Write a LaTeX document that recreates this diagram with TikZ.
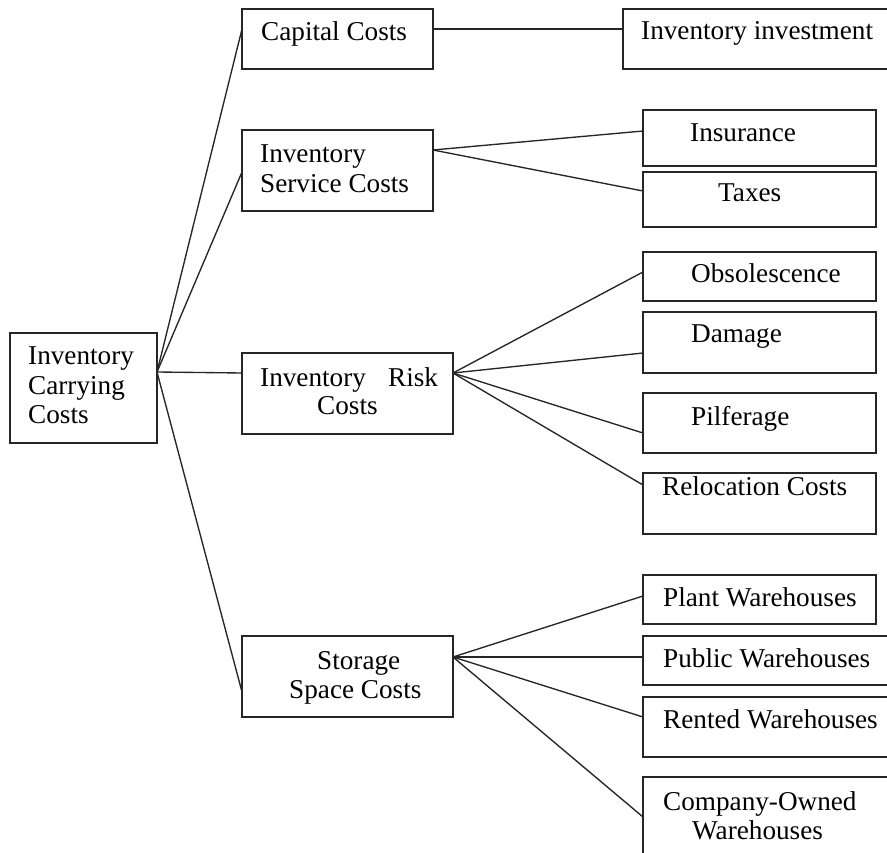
\documentclass[tikz,border=0pt]{standalone}
\usepackage{fontspec}
\setmainfont{Liberation Serif}
\begin{document}
\begin{tikzpicture}[x=1pt,y=-1pt,
  box/.style={draw=black!85,line width=1.4pt,inner sep=0pt,outer sep=0pt},
  lbl/.style={anchor=base west,inner sep=0pt,font=\fontsize{27.2}{30}\selectfont,text=black},
  conn/.style={draw=black!85,line width=1.35pt}]
\clip (0,0) rectangle (887,853);
\fill[white] (0,0) rectangle (887,853);
% box from its corners: name, x1, y1, x2, y2
\newcommand\costbox[5]{%
  \node[box,minimum width={(#4-#2)*1pt},minimum height={(#5-#3)*1pt}]
    (#1) at ({(#2+#4)/2},{(#3+#5)/2}) {};}
% root
\costbox{root}{10}{333}{157}{443}
% second level
\costbox{cap}{242}{9}{433}{69}
\costbox{serv}{242}{130}{433}{211}
\costbox{risk}{242}{353}{453}{434}
\costbox{stor}{242}{636}{453}{717}
% third level
\costbox{inv}{623}{9}{897}{69}
\costbox{ins}{643}{110}{876}{166}
\costbox{tax}{643}{172}{876}{227}
\costbox{obs}{643}{252}{876}{301}
\costbox{dam}{643}{312}{876}{373}
\costbox{pil}{643}{393}{876}{453}
\costbox{rel}{643}{473}{876}{534}
\costbox{plant}{643}{575}{876}{624}
\costbox{pub}{643}{636}{897}{685}
\costbox{rent}{643}{697}{897}{757}
\costbox{comp}{643}{777}{897}{875}
% labels
\node[lbl] (root-a) at (28,364) {Inventory};
\node[lbl] (root-b) at (28,394) {Carrying};
\node[lbl] (root-c) at (28,423) {Costs};
\node[lbl] (cap-t) at (261,41) {Capital Costs};
\node[lbl] (serv-a) at (260,163) {Inventory};
\node[lbl] (serv-b) at (260,193) {Service Costs};
\node[lbl] (risk-a) at (260,386) {Inventory};
\node[lbl] (risk-b) at (388,386) {Risk};
\node[lbl] (risk-c) at (317,414) {Costs};
\node[lbl] (stor-a) at (317,669) {Storage};
\node[lbl] (stor-b) at (289,698) {Space Costs};
\node[lbl] (inv-t) at (641,40) {Inventory investment};
\node[lbl] (ins-t) at (690,142) {Insurance};
\node[lbl] (tax-t) at (718,202) {Taxes};
\node[lbl] (obs-t) at (691,283) {Obsolescence};
\node[lbl] (dam-t) at (691,343) {Damage};
\node[lbl] (pil-t) at (691,425) {Pilferage};
\node[lbl] (rel-t) at (662,495) {Relocation Costs};
\node[lbl] (plant-t) at (663,606) {Plant Warehouses};
\node[lbl] (pub-t) at (663,667) {Public Warehouses};
\node[lbl] (rent-t) at (663,728) {Rented Warehouses};
\node[lbl] (comp-a) at (663,810) {Company-Owned};
\node[lbl] (comp-b) at (692,839) {Warehouses};
% connectors
\coordinate (root-o) at (root.east |- 0,372);
\draw[conn] (root-o) -- (cap.west |- 0,29);
\draw[conn] (root-o) -- (serv.west |- 0,172);
\draw[conn] (root-o) -- (risk.west |- 0,373);
\draw[conn] (root-o) -- (stor.west |- 0,692);
\draw[conn] (cap.east |- 0,29) -- (inv.west |- 0,29);
\coordinate (serv-o) at (serv.east |- 0,150);
\draw[conn] (serv-o) -- (ins.west |- 0,131);
\draw[conn] (serv-o) -- (tax.west |- 0,191);
\coordinate (risk-o) at (risk.east |- 0,373);
\draw[conn] (risk-o) -- (obs.west |- 0,272);
\draw[conn] (risk-o) -- (dam.west |- 0,353);
\draw[conn] (risk-o) -- (pil.west |- 0,433);
\draw[conn] (risk-o) -- (rel.west |- 0,485);
\coordinate (stor-o) at (stor.east |- 0,657);
\draw[conn] (stor-o) -- (plant.west |- 0,596);
\draw[conn] (stor-o) -- (pub.west |- 0,657);
\draw[conn] (stor-o) -- (rent.west |- 0,717);
\draw[conn] (stor-o) -- (comp.west |- 0,817);
\end{tikzpicture}
\end{document}
